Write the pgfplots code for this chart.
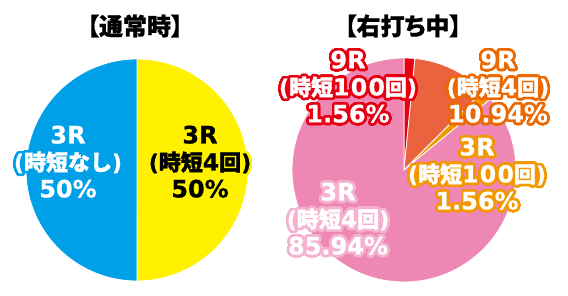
\documentclass[border=0pt]{standalone}
\usepackage{pgfplots}
\pgfplotsset{compat=1.18}
\usepackage{fontspec}
\usepackage[copies]{contour}
\setmainfont{Noto Sans CJK JP}
\newfontfamily\jp{Noto Sans CJK JP Black}[FakeBold=1.6]
\newfontfamily\jpt{Noto Sans CJK JP Black}[FakeBold=0.8, RawFeature=+palt]
\newfontfamily\la{DejaVu Sans}[BoldFeatures={FakeBold=0.6}]
\definecolor{cblue}{RGB}{0,160,233}
\definecolor{cyellow}{RGB}{255,241,0}
\definecolor{cred}{RGB}{230,0,18}
\definecolor{corange}{RGB}{234,98,62}
\definecolor{corlab}{RGB}{236,104,0}
\definecolor{cgold}{RGB}{243,152,0}
\definecolor{cpink}{RGB}{238,135,180}
\definecolor{cpinklab}{RGB}{245,178,207}
\contourlength{2.6pt}
\contournumber{40}
% data (percent)
\def\Lyel{50}\def\Lblu{50}
\def\Rnine{1.56}\def\Rninef{10.94}\def\Rthree{1.56}\def\Rthreef{85.94}
\pgfmathsetmacro\LA{90}
\pgfmathsetmacro\LB{\LA-3.6*\Lyel}
\pgfmathsetmacro\LC{\LB-3.6*\Lblu}
\pgfmathsetmacro\RA{90}
\pgfmathsetmacro\RB{\RA-3.6*\Rnine}
\pgfmathsetmacro\RC{\RB-3.6*\Rninef}
\pgfmathsetmacro\RD{\RC-3.6*\Rthree}
\pgfmathsetmacro\RE{\RD-3.6*\Rthreef}
\newcommand\slice[6]{\addplot[fill=#6, draw=white, line width=0.8pt, domain=#5:#4, samples=120, variable=\t] ({#1+#3*cos(\t)},{#2+#3*sin(\t)}) -- (axis cs:#1,#2) -- cycle;}
\newcommand\Lt[1]{{\la\bfseries\fontsize{24}{27}\selectfont #1}}
\newcommand\Pa[1]{{\la\bfseries\fontsize{22}{27}\selectfont #1}}
\newcommand\Dg[1]{{\la\bfseries\fontsize{23.5}{27}\selectfont\addfontfeatures{LetterSpace=6} #1}}
\newcommand\three[4]{\contour{#1}{\Lt{#2}}\\\contour{#1}{\Pa{(}#3\Pa{)}}\\\contour{#1}{\Lt{#4}}}
\begin{document}
\begin{tikzpicture}
\begin{axis}[hide axis, clip=false, scale only axis, width=568pt, height=296pt,
  xmin=0, xmax=568, ymin=0, ymax=296]
\path (axis cs:0,0) rectangle (axis cs:568,296);
% left pie
\slice{137}{126}{111}{\LA}{\LB}{cyellow}
\slice{137}{126}{111}{\LB}{\LC}{cblue}
% right pie
\slice{404}{126}{112}{\RA}{\RB}{cred}
\slice{404}{126}{112}{\RB}{\RC}{corange}
\slice{404}{126}{112}{\RC}{\RD}{cgold}
\slice{404}{126}{112}{\RD}{\RE}{cpink}
% titles
\node[font=\jpt\fontsize{24}{26}\selectfont] at (axis cs:135,270) {【通常時】};
\node[font=\jpt\fontsize{24}{26}\selectfont] at (axis cs:403,270) {【右打ち中】};
% labels
\begin{scope}[every node/.style={align=center, inner sep=0pt, font=\jp\fontsize{22}{27}\selectfont}]
\node[text=white] at (axis cs:68,133) {\three{cblue}{3R}{時短なし}{50\%}};
\node[text=black] at (axis cs:200,133) {\three{cyellow}{3R}{時短\Dg{4}回}{50\%}};
\node[text=white] at (axis cs:348,208) {\three{cred}{9R}{時短\Dg{100}回}{1.56\%}};
\node[text=white] at (axis cs:498,208) {\three{corlab}{9R}{時短\Dg{4}回}{10.94\%}};
\node[text=white] at (axis cs:477,121) {\three{cgold}{3R}{時短\Dg{100}回}{1.56\%}};
\node[text=white] at (axis cs:338,76) {\three{cpinklab}{3R}{時短\Dg{4}回}{85.94\%}};
\end{scope}
\end{axis}
\end{tikzpicture}
\end{document}
